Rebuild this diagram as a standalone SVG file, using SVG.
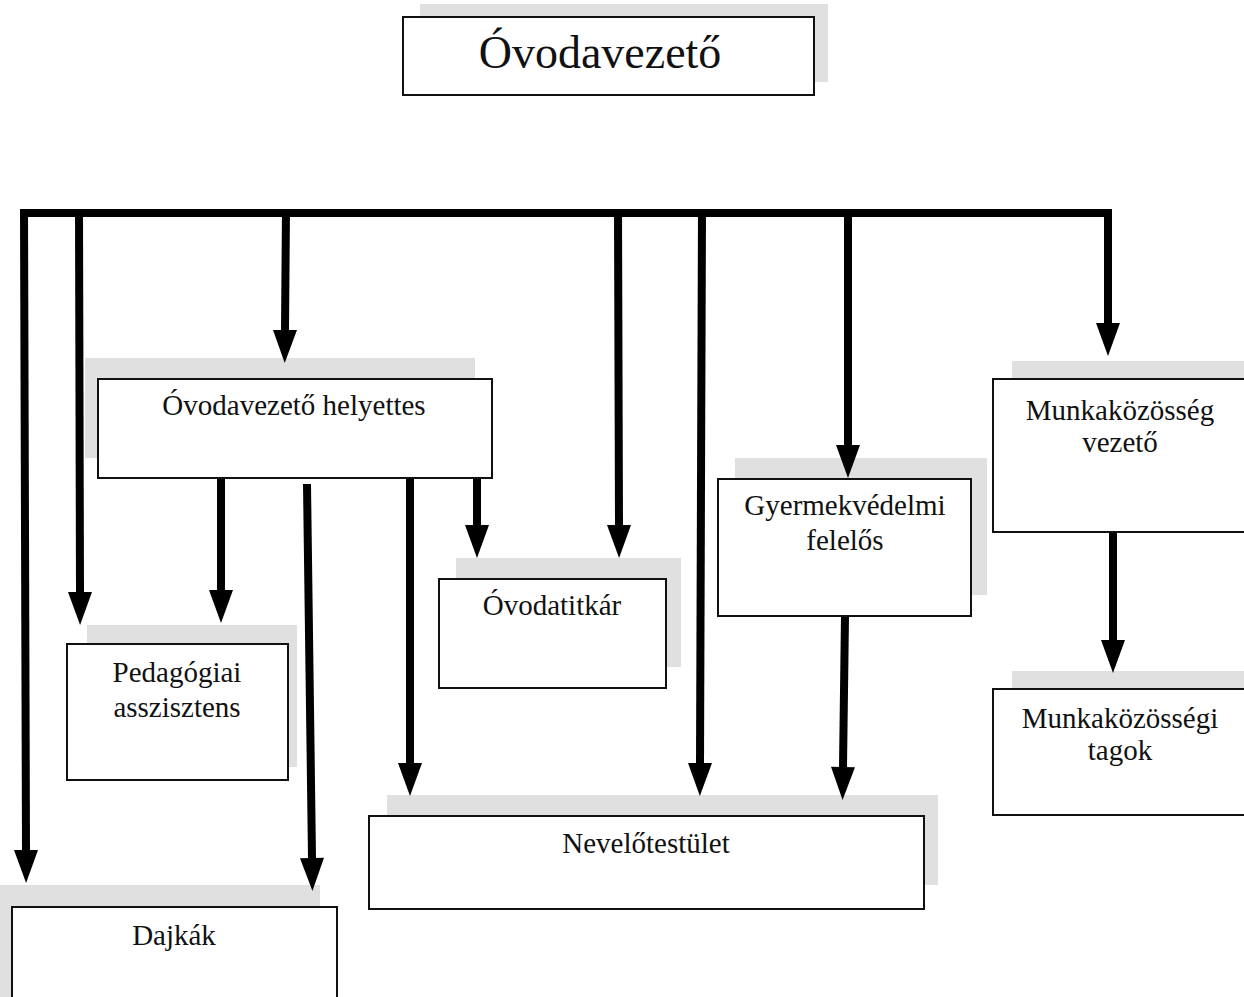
<svg xmlns="http://www.w3.org/2000/svg" width="1244" height="997" viewBox="0 0 1244 997">
<style>
.shadow{fill:#e0e0e0;stroke:none}
.box{fill:#ffffff;stroke:#111;stroke-width:2}
.lbl{font-family:"Liberation Serif","Times New Roman",serif;font-size:29px;fill:#111;text-anchor:middle}
.title{font-size:46px}
.conn{fill:none;stroke:#000;stroke-width:8;stroke-linecap:butt}
</style>
<defs>
<marker id="ah" markerUnits="userSpaceOnUse" viewBox="0 -13 34 26" refX="0" refY="0" markerWidth="34" markerHeight="26" orient="auto" overflow="visible">
<path d="M0,-12 L33,0 L0,12 z" fill="#000"/>
</marker>
</defs>
<rect width="1244" height="997" fill="#fff"/>

<g id="shadows">
<rect class="shadow" x="420" y="4" width="408" height="78"/>
<rect class="shadow" x="85" y="358" width="390" height="100"/>
<rect class="shadow" x="87" y="625" width="210" height="142"/>
<rect class="shadow" x="0" y="885" width="320" height="112"/>
<rect class="shadow" x="456" y="558" width="225" height="109"/>
<rect class="shadow" x="735" y="458" width="252" height="137"/>
<rect class="shadow" x="387" y="795" width="551" height="90"/>
<rect class="shadow" x="1012" y="361" width="240" height="151"/>
<rect class="shadow" x="1012" y="671" width="240" height="129"/>
</g>

<g id="connectors">
<path class="conn" d="M20,213 L1112,213"/>
<path class="conn" d="M24,209 L26,850" marker-end="url(#ah)"/>
<path class="conn" d="M79,209 L80,592" marker-end="url(#ah)"/>
<path class="conn" d="M286,209 L285,330" marker-end="url(#ah)"/>
<path class="conn" d="M618,209 L619,525" marker-end="url(#ah)"/>
<path class="conn" d="M702,209 L700,763" marker-end="url(#ah)"/>
<path class="conn" d="M848,209 L848,445" marker-end="url(#ah)"/>
<path class="conn" d="M1108,209 L1108,323" marker-end="url(#ah)"/>
<path class="conn" d="M221,478 L221,590" marker-end="url(#ah)"/>
<path class="conn" d="M307,484 L312,858" marker-end="url(#ah)"/>
<path class="conn" d="M410,478 L410,763" marker-end="url(#ah)"/>
<path class="conn" d="M477,478 L477,525" marker-end="url(#ah)"/>
<path class="conn" d="M845,616 L843,767" marker-end="url(#ah)"/>
<path class="conn" d="M1113,532 L1113,640" marker-end="url(#ah)"/>
</g>

<g id="ovodavezeto">
<rect class="box" x="403" y="17" width="411" height="78"/>
<text class="lbl title" x="600" y="68">Óvodavezető</text>
</g>
<g id="helyettes">
<rect class="box" x="98" y="379" width="394" height="99"/>
<text class="lbl" x="294" y="415">Óvodavezető helyettes</text>
</g>
<g id="pedagogiai">
<rect class="box" x="67" y="644" width="221" height="136"/>
<text class="lbl" x="177" y="682">Pedagógiai</text>
<text class="lbl" x="177" y="717">asszisztens</text>
</g>
<g id="dajkak">
<rect class="box" x="12" y="907" width="325" height="100"/>
<text class="lbl" x="174" y="945">Dajkák</text>
</g>
<g id="titkar">
<rect class="box" x="439" y="579" width="227" height="109"/>
<text class="lbl" x="552" y="615">Óvodatitkár</text>
</g>
<g id="gyermekvedelmi">
<rect class="box" x="718" y="479" width="253" height="137"/>
<text class="lbl" x="845" y="515">Gyermekvédelmi</text>
<text class="lbl" x="845" y="550">felelős</text>
</g>
<g id="nevelotestulet">
<rect class="box" x="369" y="816" width="555" height="93"/>
<text class="lbl" x="646" y="853">Nevelőtestület</text>
</g>
<g id="munkakozosseg-vezeto">
<rect class="box" x="993" y="379" width="260" height="153"/>
<text class="lbl" x="1120" y="420">Munkaközösség</text>
<text class="lbl" x="1120" y="452">vezető</text>
</g>
<g id="munkakozossegi-tagok">
<rect class="box" x="993" y="689" width="260" height="126"/>
<text class="lbl" x="1120" y="728">Munkaközösségi</text>
<text class="lbl" x="1120" y="760">tagok</text>
</g>
</svg>
